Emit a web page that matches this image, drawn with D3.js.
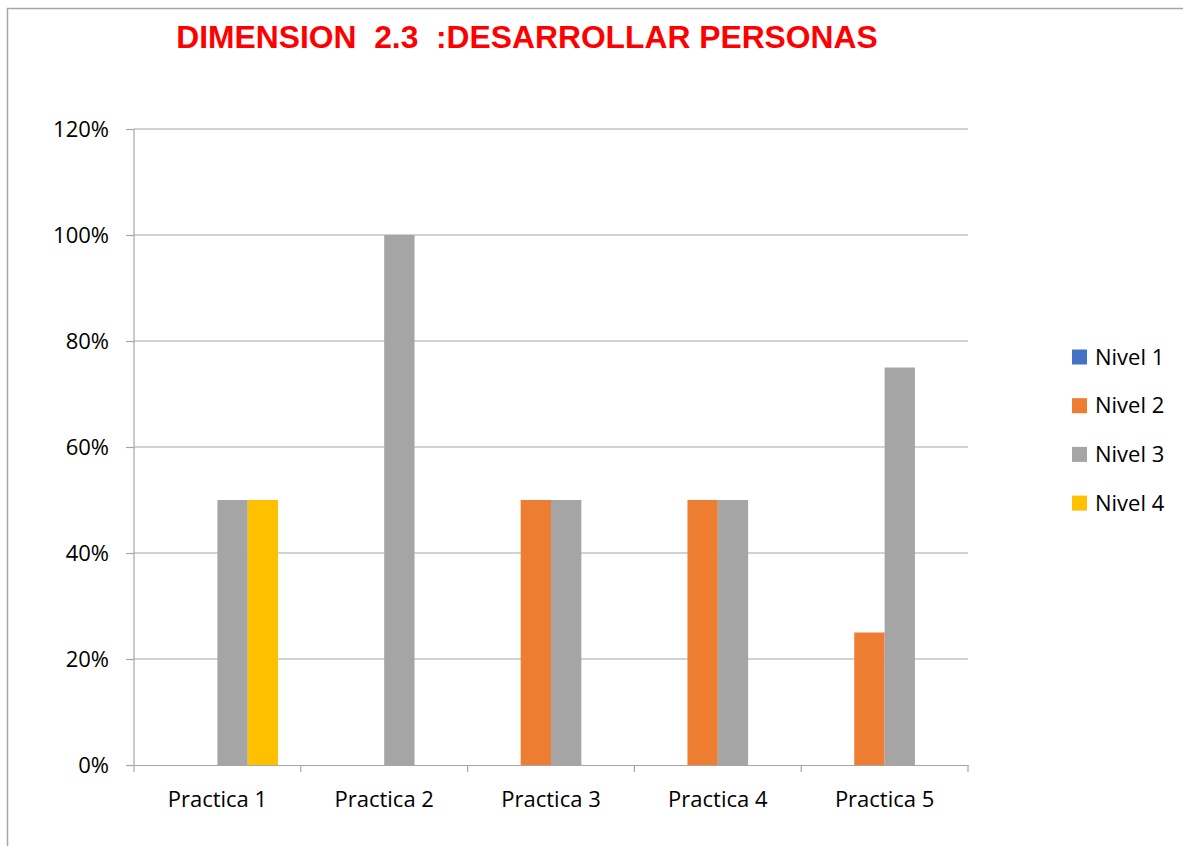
<!DOCTYPE html>
<html>
<head>
<meta charset="utf-8">
<script src="https://cdn.jsdelivr.net/npm/d3@7"></script>
<style>
  body { margin: 0; background: #fff; }
  svg { display: block; }
</style>
</head>
<body>
<div id="chart"></div>
<script>
// data
const categories = ["Practica 1", "Practica 2", "Practica 3", "Practica 4", "Practica 5"];
const seriesNames = ["Nivel 1", "Nivel 2", "Nivel 3", "Nivel 4"];
const nivel1 = [0, 0, 0, 0, 0];
const nivel2 = [0, 0, 0.5, 0.5, 0.25];
const nivel3 = [0.5, 1, 0.5, 0.5, 0.75];
const nivel4 = [0.5, 0, 0, 0, 0];
const yTicks = [0, 0.2, 0.4, 0.6, 0.8, 1.0, 1.2];
const colors = ["#4472C4", "#ED7D31", "#A5A5A5", "#FFC000"];

const width = 1183, height = 846;
const plot = {left: 134, right: 968, top: 129, bottom: 765};
const labelFont = "'Open Sans', sans-serif";
const labelSize = "22px";

const svg = d3.select("#chart").append("svg")
    .attr("width", width)
    .attr("height", height);

// chart frame
svg.append("rect")
    .attr("x", 7.5).attr("y", 8.5)
    .attr("width", 1200).attr("height", 900)
    .attr("fill", "#fff")
    .attr("stroke", "#a6a6a6")
    .attr("stroke-width", 1.5);

svg.append("text")
    .attr("x", 527)
    .attr("y", 48)
    .attr("text-anchor", "middle")
    .attr("font-family", "'Liberation Sans', Arial, sans-serif")
    .attr("font-weight", "bold")
    .attr("font-size", "31.8px")
    .attr("fill", "#ff0000")
    .style("white-space", "pre")
    .text("DIMENSION  2.3  :DESARROLLAR PERSONAS");

const x = d3.scaleBand().domain(categories).range([plot.left, plot.right]).padding(0);
const xs = d3.scaleBand().domain(seriesNames).range([0, x.bandwidth()]).paddingInner(0).paddingOuter(0.75);
const y = d3.scaleLinear().domain([0, 1.2]).range([plot.bottom, plot.top]);
const color = d3.scaleOrdinal().domain(seriesNames).range(colors);

// gridlines
svg.append("g")
  .selectAll("line")
  .data(yTicks.slice(1))
  .join("line")
    .attr("x1", plot.left).attr("x2", plot.right)
    .attr("y1", d => y(d)).attr("y2", d => y(d))
    .attr("stroke", "#a6a6a6")
    .attr("stroke-width", 1.2);

// y axis
const yAxis = svg.append("g")
    .attr("transform", `translate(${plot.left},0)`)
    .call(d3.axisLeft(y).tickValues(yTicks).tickFormat(d3.format(".0%")).tickSize(8).tickPadding(17));
yAxis.attr("font-family", labelFont).attr("font-size", labelSize);
yAxis.selectAll("line, path").attr("stroke", "#a6a6a6").attr("stroke-width", 1.2);
yAxis.select(".domain").attr("d", `M0,${plot.top}V${plot.bottom}`);
yAxis.selectAll("text").attr("fill", "#000");

// bars
const rows = categories.map((c, i) => ({
  category: c,
  values: [nivel1[i], nivel2[i], nivel3[i], nivel4[i]].map((v, j) => ({name: seriesNames[j], value: v}))
}));

svg.append("g")
  .selectAll("g")
  .data(rows)
  .join("g")
    .attr("transform", d => `translate(${x(d.category)},0)`)
  .selectAll("rect")
  .data(d => d.values.filter(v => v.value > 0))
  .join("rect")
    .attr("x", d => xs(d.name))
    .attr("y", d => y(d.value))
    .attr("width", xs.bandwidth())
    .attr("height", d => y(0) - y(d.value))
    .attr("fill", d => color(d.name));

// x axis
const xAxis = svg.append("g")
    .attr("transform", `translate(0,${plot.bottom})`)
    .call(d3.axisBottom(x).tickSize(0).tickPadding(26));
xAxis.attr("font-family", labelFont).attr("font-size", labelSize);
xAxis.select(".domain").attr("stroke", "#a6a6a6").attr("stroke-width", 1.2);
xAxis.selectAll("text").attr("fill", "#000");
svg.append("g")
  .selectAll("line")
  .data(categories.map(c => x(c)).concat([plot.right]))
  .join("line")
    .attr("x1", d => d).attr("x2", d => d)
    .attr("y1", plot.bottom).attr("y2", plot.bottom + 7)
    .attr("stroke", "#a6a6a6")
    .attr("stroke-width", 1.2);

// legend
const legend = svg.append("g")
    .attr("transform", "translate(1072,357)");
const item = legend.selectAll("g")
  .data(seriesNames)
  .join("g")
    .attr("transform", (d, i) => `translate(0,${i * 48.7})`);
item.append("rect")
    .attr("x", 0).attr("y", -7.5)
    .attr("width", 15).attr("height", 15)
    .attr("fill", d => color(d));
item.append("text")
    .attr("x", 23)
    .attr("dy", "0.35em")
    .attr("font-family", labelFont)
    .attr("font-size", labelSize)
    .attr("fill", "#000")
    .text(d => d);
</script>
</body>
</html>
